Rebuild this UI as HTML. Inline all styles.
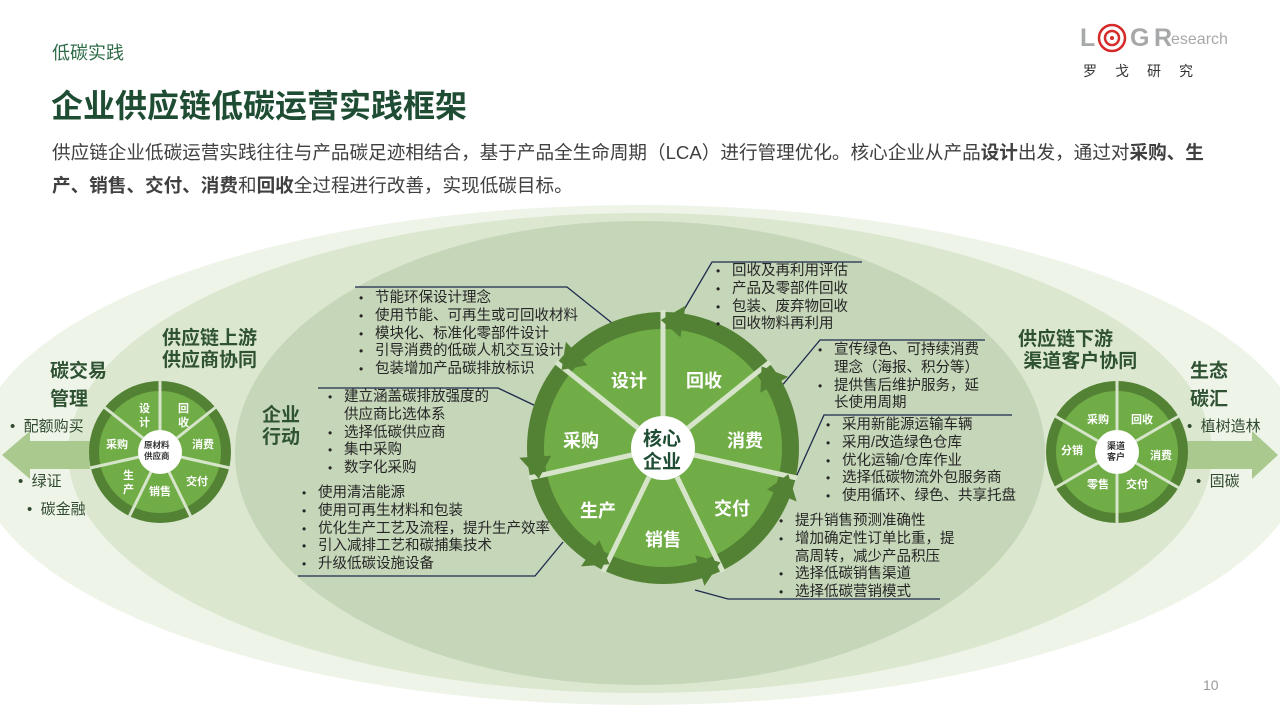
<!DOCTYPE html>
<html><head><meta charset="utf-8"><style>
body{margin:0;width:1280px;height:720px;position:relative;background:#fff;font-family:"Liberation Sans","Noto Sans CJK SC",sans-serif;overflow:hidden}
.a{position:absolute;white-space:nowrap}
.l{position:absolute;font-size:14.5px;line-height:17.8px;color:#262626;white-space:nowrap}
.l div{position:relative;padding-left:16px}
.l div.b:before{content:"•";position:absolute;left:0;font-size:12px}
.h{position:absolute;font-weight:bold;font-size:19px;line-height:22px;color:#2f5233;white-space:nowrap}
.s{position:absolute;font-size:15px;color:#2f4a30;white-space:nowrap}
</style></head><body>
<svg class="a" style="left:0;top:0" width="1280" height="720">
<ellipse cx="640" cy="455" rx="665" ry="250" fill="#eef4e8"/>
<ellipse cx="640" cy="453" rx="572" ry="240" fill="#dbe7cf"/>
<polygon points="2,455 30,431 30,441 100,441 100,469 30,469 30,479" fill="#a9c98f"/>
<polygon points="1278,455 1252,431 1252,441 1180,441 1180,469 1252,469 1252,479" fill="#a9c98f"/>
<ellipse cx="640" cy="453" rx="405" ry="232" fill="#c5d6b9"/>
<g stroke="#1f2a4d" stroke-width="1.3" fill="none">
<polyline points="355,287 567,287 612,323"/>
<polyline points="318,388 498,388 538,407"/>
<polyline points="298,576 535,576 563,542"/>
<polyline points="668,337 712,262 862,262"/>
<polyline points="780,388 820,340 985,340"/>
<polyline points="782,508 824,415 1012,415"/>
<polyline points="695,590 728,599 940,599"/>
</g>
<!-- main wheel -->
<circle cx="663" cy="448" r="136" fill="#548235"/>
<circle cx="663" cy="448" r="119" fill="#70ad47"/>
<g stroke="#d6e4c9" stroke-width="5">
<line x1="663" y1="416" x2="663" y2="310"/>
<line x1="688" y1="428" x2="770" y2="362"/>
<line x1="694" y1="455" x2="797" y2="478"/>
<line x1="677" y1="477" x2="723" y2="572"/>
<line x1="649" y1="477" x2="603" y2="572"/>
<line x1="632" y1="455" x2="529" y2="478"/>
<line x1="638" y1="428" x2="556" y2="362"/>
</g>
<g fill="#548235">
<polygon points="660.8,320 680.5,337.4 685.5,305.8"/>
<polygon points="761.6,366.4 760.4,392.7 788.2,376.9"/>
<polygon points="788.3,474.2 767,489.6 796.7,501.5"/>
<polygon points="720.5,562.4 695.2,555.3 704.4,585.9"/>
<polygon points="609.5,564.3 599.2,540.1 581,566.4"/>
<polygon points="538.8,478.7 551.3,455.6 519.3,457.8"/>
<polygon points="561.6,369.9 587.5,365.3 565.9,341.7"/>
</g>
<circle cx="663" cy="448" r="32" fill="#fff"/>
<!-- left wheel -->
<circle cx="160" cy="452" r="71" fill="#548235"/>
<circle cx="160" cy="452" r="61" fill="#70ad47"/>
<g stroke="#d6e4c9" stroke-width="3">
<line x1="160" y1="430" x2="160" y2="380"/>
<line x1="177" y1="438" x2="216" y2="407"/>
<line x1="181" y1="457" x2="230" y2="468"/>
<line x1="169" y1="472" x2="191" y2="517"/>
<line x1="151" y1="472" x2="129" y2="517"/>
<line x1="139" y1="457" x2="90" y2="468"/>
<line x1="143" y1="438" x2="104" y2="407"/>
</g>
<circle cx="160" cy="452" r="22" fill="#fff"/>
<!-- right wheel -->
<circle cx="1117" cy="452" r="71" fill="#548235"/>
<circle cx="1117" cy="452" r="61" fill="#70ad47"/>
<g stroke="#d6e4c9" stroke-width="3">
<line x1="1117" y1="430" x2="1117" y2="380"/>
<line x1="1136" y1="441" x2="1179" y2="416"/>
<line x1="1136" y1="463" x2="1179" y2="488"/>
<line x1="1117" y1="474" x2="1117" y2="524"/>
<line x1="1098" y1="463" x2="1055" y2="488"/>
<line x1="1098" y1="441" x2="1055" y2="416"/>
</g>
<circle cx="1117" cy="452" r="22" fill="#fff"/>
<!-- logo -->
<circle cx="1112" cy="38" r="13" fill="none" stroke="#d42a2a" stroke-width="2.5"/>
<circle cx="1112" cy="38" r="7" fill="none" stroke="#d42a2a" stroke-width="2.5"/>
<circle cx="1112" cy="38" r="2" fill="#d42a2a"/>
</svg>

<div class="a" style="left:52px;top:39px;font-size:18px;color:#2e6b47">低碳实践</div>
<div class="a" style="left:51px;top:81px;font-size:32px;font-weight:bold;color:#1e4d33">企业供应链低碳运营实践框架</div>
<div class="a" style="left:52px;top:136px;font-size:18.6px;line-height:33px;color:#404040">供应链企业低碳运营实践往往与产品碳足迹相结合，基于产品全生命周期（LCA）进行管理优化。核心企业从产品<b>设计</b>出发，通过对<b>采购、生</b><br><b>产、销售、交付、消费</b>和<b>回收</b>全过程进行改善，实现低碳目标。</div>

<div class="a" style="left:1080px;top:24px;font-size:25px;font-weight:bold;color:#a6a8aa;letter-spacing:0">L</div>
<div class="a" style="left:1130px;top:24px;font-size:25px;font-weight:bold;color:#a6a8aa">G</div>
<div class="a" style="left:1154px;top:24px;font-size:25px;font-weight:bold;color:#a6a8aa">R</div>
<div class="a" style="left:1171px;top:31px;font-size:16px;color:#a6a8aa">esearch</div>
<div class="a" style="left:1083px;top:61px;font-size:14px;color:#333;letter-spacing:18px">罗戈研究</div>

<div class="h" style="left:50px;top:358px;line-height:28px">碳交易<br>管理</div>
<div class="h" style="left:162px;top:328px">供应链上游<br>供应商协同</div>
<div class="h" style="left:262px;top:405px">企业<br>行动</div>
<div class="h" style="left:1018px;top:329px">供应链下游<br>&nbsp;渠道客户协同</div>
<div class="h" style="left:1190px;top:358px;line-height:28px">生态<br>碳汇</div>

<div class="s" style="left:10px;top:415px">•&nbsp;&nbsp;配额购买</div>
<div class="s" style="left:18px;top:470px">•&nbsp;&nbsp;绿证</div>
<div class="s" style="left:27px;top:498px">•&nbsp;&nbsp;碳金融</div>
<div class="s" style="left:1187px;top:415px">•&nbsp;&nbsp;植树造林</div>
<div class="s" style="left:1196px;top:470px">•&nbsp;&nbsp;固碳</div>

<div class="l" style="left:359px;top:290px"><div class="b">节能环保设计理念</div><div class="b">使用节能、可再生或可回收材料</div><div class="b">模块化、标准化零部件设计</div><div class="b">引导消费的低碳人机交互设计</div><div class="b">包装增加产品碳排放标识</div></div>
<div class="l" style="left:328px;top:389px"><div class="b">建立涵盖碳排放强度的</div><div>供应商比选体系</div><div class="b">选择低碳供应商</div><div class="b">集中采购</div><div class="b">数字化采购</div></div>
<div class="l" style="left:302px;top:485px"><div class="b">使用清洁能源</div><div class="b">使用可再生材料和包装</div><div class="b">优化生产工艺及流程，提升生产效率</div><div class="b">引入减排工艺和碳捕集技术</div><div class="b">升级低碳设施设备</div></div>
<div class="l" style="left:716px;top:263px"><div class="b">回收及再利用评估</div><div class="b">产品及零部件回收</div><div class="b">包装、废弃物回收</div><div class="b">回收物料再利用</div></div>
<div class="l" style="left:818px;top:342px"><div class="b">宣传绿色、可持续消费</div><div>理念（海报、积分等）</div><div class="b">提供售后维护服务，延</div><div>长使用周期</div></div>
<div class="l" style="left:826px;top:417px"><div class="b">采用新能源运输车辆</div><div class="b">采用/改造绿色仓库</div><div class="b">优化运输/仓库作业</div><div class="b">选择低碳物流外包服务商</div><div class="b">使用循环、绿色、共享托盘</div></div>
<div class="l" style="left:779px;top:513px"><div class="b">提升销售预测准确性</div><div class="b">增加确定性订单比重，提</div><div>高周转，减少产品积压</div><div class="b">选择低碳销售渠道</div><div class="b">选择低碳营销模式</div></div>

<div style="position:absolute;color:#fff;font-weight:bold;font-size:18px">
<div class="a" style="left:611px;top:367px">设计</div>
<div class="a" style="left:686px;top:367px">回收</div>
<div class="a" style="left:727px;top:427px">消费</div>
<div class="a" style="left:714px;top:495px">交付</div>
<div class="a" style="left:645px;top:526px">销售</div>
<div class="a" style="left:580px;top:497px">生产</div>
<div class="a" style="left:563px;top:427px">采购</div>
</div>
<div class="a" style="left:643px;top:428px;font-size:19px;line-height:23px;font-weight:bold;color:#1e4d33;text-align:center">核心<br>企业</div>

<div style="position:absolute;color:#fff;font-weight:bold;font-size:11px;line-height:14px">
<div class="a" style="left:139px;top:402px">设<br>计</div>
<div class="a" style="left:178px;top:402px">回<br>收</div>
<div class="a" style="left:192px;top:438px">消费</div>
<div class="a" style="left:186px;top:475px">交付</div>
<div class="a" style="left:149px;top:485px">销售</div>
<div class="a" style="left:123px;top:469px">生<br>产</div>
<div class="a" style="left:106px;top:438px">采购</div>
<div class="a" style="left:1087px;top:413px">采购</div>
<div class="a" style="left:1131px;top:413px">回收</div>
<div class="a" style="left:1150px;top:449px">消费</div>
<div class="a" style="left:1126px;top:478px">交付</div>
<div class="a" style="left:1087px;top:478px">零售</div>
<div class="a" style="left:1061px;top:444px">分销</div>
</div>
<div class="a" style="left:144px;top:440px;font-size:8.5px;line-height:11px;font-weight:bold;color:#333;text-align:center">原材料<br>供应商</div>
<div class="a" style="left:1107px;top:441px;font-size:9px;line-height:11px;font-weight:bold;color:#333;text-align:center">渠道<br>客户</div>

<div class="a" style="left:1203px;top:677px;font-size:14px;color:#999">10</div>
</body></html>
